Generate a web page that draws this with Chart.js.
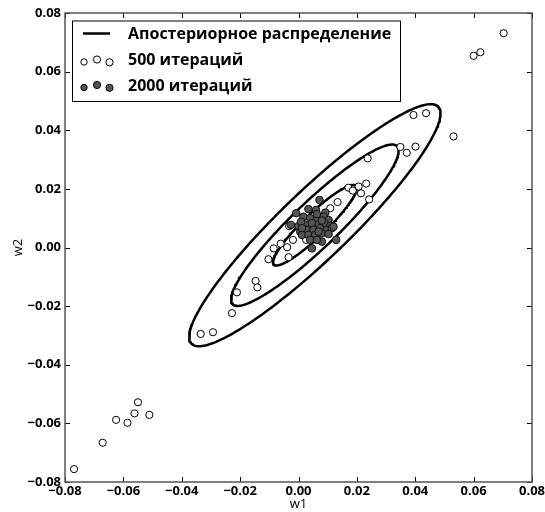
<!DOCTYPE html>
<html><head><meta charset="utf-8">
<script src="https://cdn.jsdelivr.net/npm/chart.js@4"></script>
<style>html,body{margin:0;padding:0;background:#fff}</style>
</head><body>
<canvas id="c" width="545" height="512"></canvas>
<script>
const tickValues = [-0.08,-0.06,-0.04,-0.02,0,0.02,0.04,0.06,0.08];
const seriesNames = ['Апостериорное распределение','500 итераций','2000 итераций'];
const axisTitles = ['w1','w2'];
const posteriorMean = [0.0056, 0.0076];
const posteriorSigma = [0.0195, 0.0039];
const posteriorAngleDeg = [43.7];
const contourLevels = [1, 2, 3];
const w1_500 = [0.0703,0.0600,0.0623,0.0394,0.0437,0.0531,0.0349,0.0371,0.0401,0.0237,0.0232,0.0206,0.0171,0.0186,0.0214,0.0242,0.0134,0.0109,-0.0032,-0.0019,0.0026,-0.0061,-0.0085,-0.0039,-0.0103,-0.0034,-0.0147,-0.0141,-0.0211,-0.0228,-0.0335,-0.0293,-0.0769,-0.0671,-0.0625,-0.0586,-0.0562,-0.0550,-0.0511];
const w2_500 = [0.0731,0.0654,0.0666,0.0452,0.0458,0.0379,0.0343,0.0323,0.0344,0.0304,0.0218,0.0208,0.0204,0.0194,0.0185,0.0164,0.0155,0.0134,0.0073,0.0026,0.0026,0.0013,-0.0003,0.0001,-0.0040,-0.0033,-0.0114,-0.0136,-0.0153,-0.0224,-0.0295,-0.0289,-0.0756,-0.0666,-0.0588,-0.0598,-0.0566,-0.0528,-0.0571];
const w1_2000 = [0.0072,-0.0008,0.0034,0.0060,0.0092,0.0017,0.0040,0.0063,0.0086,0.0103,-0.0026,0.0000,0.0023,0.0046,0.0069,0.0089,0.0109,0.0006,0.0029,0.0051,0.0074,0.0097,0.0114,0.0012,0.0034,0.0057,0.0080,0.0103,0.0080,0.0046,0.0129,0.0120,0.0009,0.0080,0.0063,0.0012,0.0069,0.0040,0.0063];
const w2_2000 = [0.0162,0.0117,0.0131,0.0128,0.0119,0.0105,0.0100,0.0096,0.0105,0.0094,0.0077,0.0073,0.0077,0.0083,0.0079,0.0083,0.0074,0.0054,0.0060,0.0060,0.0066,0.0060,0.0066,0.0043,0.0043,0.0043,0.0048,0.0046,0.0020,-0.0003,0.0026,0.0071,0.0088,0.0092,0.0114,0.0066,0.0054,0.0026,0.0026];

const FONT = "'Open Sans', 'Noto Sans', sans-serif";
Chart.defaults.font.family = FONT;
Chart.defaults.color = '#000';

function contour(k) {
  const th = posteriorAngleDeg[0] * Math.PI / 180;
  const pts = [];
  for (let i = 0; i <= 240; i++) {
    const t = i / 240 * 2 * Math.PI;
    const u = k * posteriorSigma[0] * Math.cos(t);
    const v = k * posteriorSigma[1] * Math.sin(t);
    pts.push({x: posteriorMean[0] + u * Math.cos(th) - v * Math.sin(th),
              y: posteriorMean[1] + u * Math.sin(th) + v * Math.cos(th)});
  }
  return pts;
}
const toPts = (xs, ys) => xs.map((x, i) => ({x, y: ys[i]}));
const fmt = v => Math.abs(v) < 1e-9 ? '0.00' : (v < 0 ? '\u2212' + (-v).toFixed(2) : v.toFixed(2));

const datasets = contourLevels.map((k, i) => ({
  label: i === 0 ? seriesNames[0] : '',
  data: contour(k), showLine: true, borderColor: '#000', borderWidth: 2.5,
  borderJoinStyle: 'round', borderCapStyle: 'round',
  pointRadius: 0, pointHitRadius: 0, tension: 0, fill: false, order: 3
}));
datasets.push({label: seriesNames[1], data: toPts(w1_500, w2_500), backgroundColor: '#fff',
  borderColor: '#000', borderWidth: 1, pointRadius: 3.6, order: 2});
datasets.push({label: seriesNames[2], data: toPts(w1_2000, w2_2000), backgroundColor: '#555',
  borderColor: '#111', borderWidth: 1, pointRadius: 3.8, order: 1});

const frame = {
  id: 'frame',
  afterDraw(chart) {
    const {ctx, chartArea: a, scales} = chart;
    ctx.save();
    ctx.strokeStyle = '#000'; ctx.lineWidth = 1;
    tickValues.forEach(v => {
      const px = Math.round(scales.x.getPixelForValue(v)) + 0.5;
      const py = Math.round(scales.y.getPixelForValue(v)) + 0.5;
      ctx.beginPath();
      ctx.moveTo(px, a.bottom); ctx.lineTo(px, a.bottom - 5);
      ctx.moveTo(px, a.top); ctx.lineTo(px, a.top + 5);
      ctx.moveTo(a.left, py); ctx.lineTo(a.left + 5, py);
      ctx.moveTo(a.right, py); ctx.lineTo(a.right - 5, py);
      ctx.stroke();
    });
    ctx.strokeStyle = '#555'; ctx.lineWidth = 1.5;
    ctx.strokeRect(a.left, a.top, a.right - a.left, a.bottom - a.top);
    // legend
    const bx = 72.5, by = 21, bw = 328, bh = 80.5;
    ctx.fillStyle = '#fff';
    ctx.fillRect(bx, by, bw, bh);
    ctx.strokeStyle = '#000'; ctx.lineWidth = 1;
    ctx.strokeRect(bx, by, bw, bh);
    ctx.lineWidth = 2.5;
    ctx.beginPath(); ctx.moveTo(83, 33.5); ctx.lineTo(110, 33.5); ctx.stroke();
    const cx = [84, 97, 109.5], dy = [1, -1.5, 1.3];
    [[61, '#fff'], [86.5, '#555']].forEach(([yy, col]) => {
      cx.forEach((x, j) => {
        ctx.beginPath(); ctx.arc(x, yy + dy[j], j === 0 ? 3.2 : 3.6, 0, 2 * Math.PI);
        ctx.fillStyle = col; ctx.fill();
        ctx.lineWidth = 1; ctx.strokeStyle = '#000'; ctx.stroke();
      });
    });
    ctx.fillStyle = '#000';
    ctx.font = "bold 16px " + FONT;
    ctx.textBaseline = 'middle'; ctx.textAlign = 'left';
    ctx.fillText(seriesNames[0], 128, 34);
    ctx.fillText(seriesNames[1], 128, 60);
    ctx.fillText(seriesNames[2], 128, 86);
    ctx.restore();
  }
};

const tickFont = {family: FONT, size: 13, weight: 'bold'};
new Chart(document.getElementById('c'), {
  type: 'scatter',
  data: {datasets},
  options: {
    responsive: false, animation: false,
    layout: {padding: {top: 13, right: 13, left: 0, bottom: 0}},
    plugins: {legend: {display: false}, tooltip: {enabled: false}},
    scales: {
      x: {
        type: 'linear', min: -0.08, max: 0.08,
        afterBuildTicks: s => { s.ticks = tickValues.map(v => ({value: v})); },
        ticks: {callback: fmt, font: tickFont, color: '#000', padding: 1, autoSkip: false, maxRotation: 0},
        grid: {drawOnChartArea: false, drawTicks: false},
        border: {display: false},
        title: {display: true, text: axisTitles[0], font: {family: FONT, size: 13}, color: '#000', padding: 0},
        afterFit: s => { s.height = 30; s.paddingLeft = 0; s.paddingRight = 0; }
      },
      y: {
        type: 'linear', min: -0.08, max: 0.08,
        afterBuildTicks: s => { s.ticks = tickValues.map(v => ({value: v})); },
        ticks: {callback: fmt, font: tickFont, color: '#000', padding: 4, autoSkip: false},
        grid: {drawOnChartArea: false, drawTicks: false},
        border: {display: false},
        title: {display: true, text: axisTitles[1], font: {family: FONT, size: 13}, color: '#000', padding: {top: 10, bottom: 0}},
        afterFit: s => { s.width = 65; s.paddingTop = 0; s.paddingBottom = 0; }
      }
    }
  },
  plugins: [frame]
});
</script>
</body></html>
